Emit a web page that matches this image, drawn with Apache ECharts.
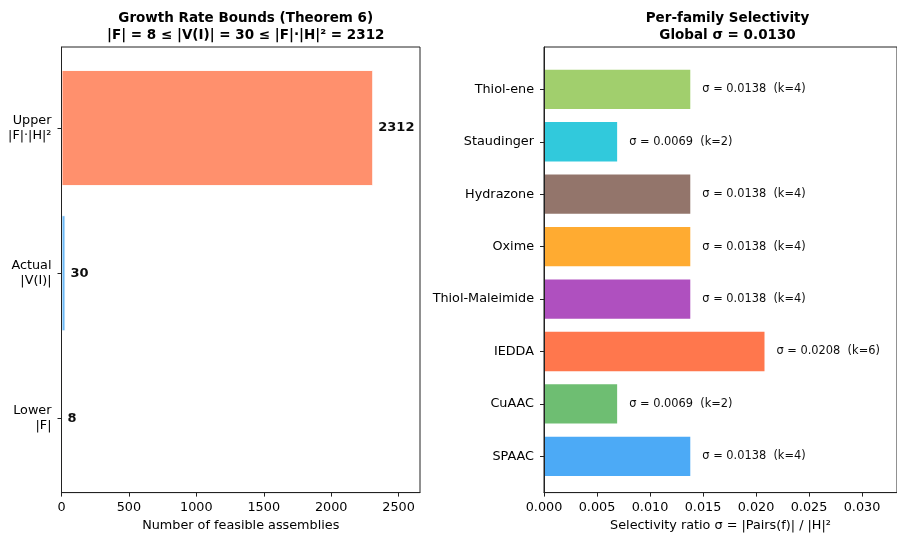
<!DOCTYPE html>
<html>
<head>
<meta charset="utf-8">
<script src="https://cdn.jsdelivr.net/npm/echarts@6/dist/echarts.min.js"></script>
<style>
  html, body { margin: 0; padding: 0; background: #fff; }
  #chart { width: 897px; height: 537px; }
</style>
</head>
<body>
<div id="chart"></div>
<script>
// Growth-rate bounds (left panel), listed bottom to top
const boundLabels = ['Lower\n|F|', 'Actual\n|V(I)|', 'Upper\n|F|·|H|²'];
const boundValues = [8, 30, 2312];
const boundColors = ['#81C784', '#64B5F6', '#FF8A65'];
const boundTicks = [0, 500, 1000, 1500, 2000, 2500];

// Per-family selectivity (right panel), listed bottom to top
const families = ['SPAAC', 'CuAAC', 'IEDDA', 'Thiol-Maleimide', 'Oxime', 'Hydrazone', 'Staudinger', 'Thiol-ene'];
const sigmaValues = [0.0138, 0.0069, 0.0208, 0.0138, 0.0138, 0.0138, 0.0069, 0.0138];
const kValues = [4, 2, 6, 4, 4, 4, 2, 4];
const familyColors = ['#42A5F5', '#66BB6A', '#FF7043', '#AB47BC', '#FFA726', '#8D6E63', '#26C6DA', '#9CCC65'];
const sigmaTicks = [0, 0.005, 0.010, 0.015, 0.020, 0.025, 0.030];
const globalSigma = 0.0130;

const FONT = 'DejaVu Sans';
const INK = '#000';
const SPINE = '#222';
const TICK_FONT = 12.8;

const leftMax = 2658.8;
const rightMax = 0.0333;

const L = { left: 61.5, top: 47, width: 358.5, height: 450 };
const R = { left: 544, top: 47, width: 357, height: 450 };

const chart = echarts.init(document.getElementById('chart'), null, { renderer: 'canvas' });

function frameGrid(box) {
  return { left: box.left, top: box.top, width: box.width, height: box.height,
           show: true, borderColor: SPINE, borderWidth: 1, backgroundColor: 'transparent' };
}

function frameXAxis(gridIndex, max, interval, name, fmt) {
  return {
    type: 'value', gridIndex, min: 0, max, interval,
    name, nameLocation: 'middle', nameGap: 26,
    nameTextStyle: { fontFamily: FONT, fontSize: TICK_FONT, color: INK },
    axisLine: { show: true, lineStyle: { color: SPINE, width: 1 } },
    axisTick: { show: true, inside: false, length: 4, lineStyle: { color: SPINE, width: 1 } },
    axisLabel: { show: true, margin: 8.5, fontFamily: FONT, fontSize: TICK_FONT, color: INK,
                 formatter: fmt, showMaxLabel: false },
    splitLine: { show: false },
    z: 10
  };
}

function frameYAxis(gridIndex) {
  return {
    type: 'value', gridIndex, min: 0, max: 1,
    axisLine: { show: true, lineStyle: { color: SPINE, width: 1 } },
    axisTick: { show: false }, axisLabel: { show: false }, splitLine: { show: false },
    z: 10
  };
}

function hiddenXAxis(gridIndex, max) {
  return { type: 'value', gridIndex, min: 0, max, show: false, splitLine: { show: false } };
}

function categoryYAxis(gridIndex, data) {
  return {
    type: 'category', gridIndex, data,
    axisLine: { show: false },
    axisTick: { show: true, alignWithLabel: true, length: 4, lineStyle: { color: SPINE, width: 1 } },
    axisLabel: { margin: 10, fontFamily: FONT, fontSize: TICK_FONT, color: INK, lineHeight: 15, align: 'right' },
    splitLine: { show: false }
  };
}

const titleStyle = { fontFamily: FONT, fontSize: 13.5, fontWeight: 'bold', color: INK, lineHeight: 17 };

const option = {
  animation: false,
  backgroundColor: '#fff',
  title: [
    {
      text: 'Growth Rate Bounds (Theorem 6)\n|F| = 8 ≤ |V(I)| = 30 ≤ |F|·|H|² = 2312',
      left: L.left + L.width / 2, top: 5, textAlign: 'center',
      textStyle: titleStyle
    },
    {
      text: 'Per-family Selectivity\nGlobal σ = ' + globalSigma.toFixed(4),
      left: R.left + R.width / 2, top: 5, textAlign: 'center',
      textStyle: titleStyle
    }
  ],
  grid: [
    frameGrid(L),
    { left: L.left, top: 55.4, width: L.width, height: 435.7 },
    frameGrid(R),
    { left: R.left, top: 63.1, width: R.width, height: 419.5 }
  ],
  xAxis: [
    frameXAxis(0, leftMax, 500, 'Number of feasible assemblies', v => String(v)),
    hiddenXAxis(1, leftMax),
    frameXAxis(2, rightMax, 0.005, 'Selectivity ratio σ = |Pairs(f)| / |H|²', v => v.toFixed(3)),
    hiddenXAxis(3, rightMax)
  ],
  yAxis: [
    frameYAxis(0),
    categoryYAxis(1, boundLabels),
    frameYAxis(2),
    categoryYAxis(3, families)
  ],
  series: [
    {
      type: 'bar', xAxisIndex: 1, yAxisIndex: 1,
      barCategoryGap: '20%',
      data: boundValues.map((v, i) => ({
        value: v,
        itemStyle: { color: boundColors[i], opacity: 0.95, borderColor: '#fff', borderWidth: 1 }
      })),
      label: {
        show: true, position: 'right', distance: 5,
        fontFamily: FONT, fontSize: 13, fontWeight: 'bold', color: INK,
        formatter: p => String(p.value)
      }
    },
    {
      type: 'bar', xAxisIndex: 3, yAxisIndex: 3,
      barCategoryGap: '25%',
      data: sigmaValues.map((v, i) => ({
        value: v,
        itemStyle: { color: familyColors[i], opacity: 0.95 }
      })),
      label: {
        show: true, position: 'right', distance: 12,
        fontFamily: FONT, fontSize: 11.4, color: INK,
        formatter: p => 'σ = ' + p.value.toFixed(4) + '  (k=' + kValues[p.dataIndex] + ')'
      }
    }
  ]
};

chart.setOption(option);
</script>
</body>
</html>
